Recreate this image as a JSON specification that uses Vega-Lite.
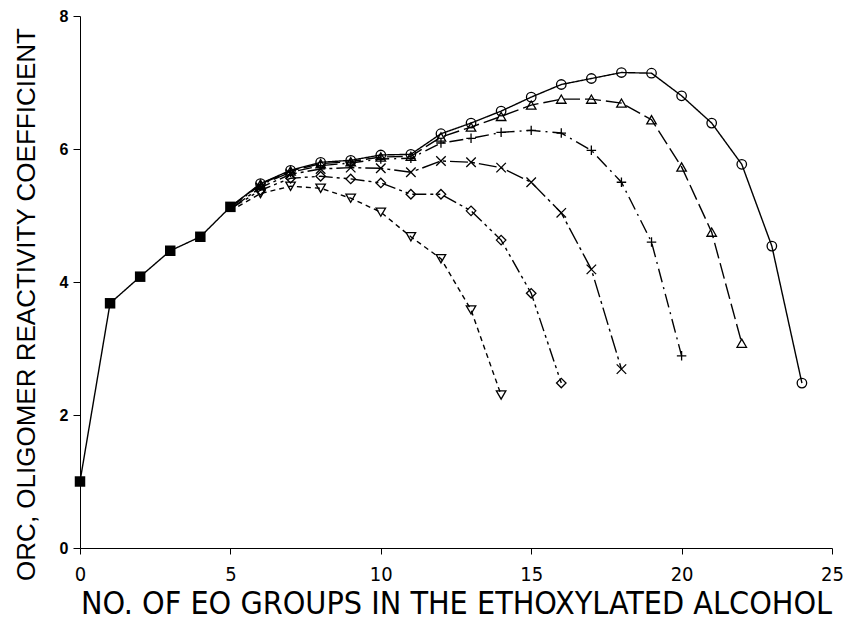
{
  "$schema": "https://vega.github.io/schema/vega-lite/v6.json",
  "width": 752,
  "height": 532,
  "autosize": "none",
  "padding": {"left": 80, "top": 16, "right": 14, "bottom": 79},
  "background": "white",
  "config": {"view": {"stroke": null}},
  "datasets": {
    "pts": [
      {"s": "common", "x": 0, "y": 1.0}, {"s": "common", "x": 1, "y": 3.68}, {"s": "common", "x": 2, "y": 4.08}, {"s": "common", "x": 3, "y": 4.47}, {"s": "common", "x": 4, "y": 4.68}, {"s": "common", "x": 5, "y": 5.13},
      {"s": "A", "x": 5, "y": 5.13}, {"s": "A", "x": 6, "y": 5.48}, {"s": "A", "x": 7, "y": 5.68}, {"s": "A", "x": 8, "y": 5.80}, {"s": "A", "x": 9, "y": 5.83}, {"s": "A", "x": 10, "y": 5.91}, {"s": "A", "x": 11, "y": 5.92}, {"s": "A", "x": 12, "y": 6.23}, {"s": "A", "x": 13, "y": 6.39}, {"s": "A", "x": 14, "y": 6.57}, {"s": "A", "x": 15, "y": 6.78}, {"s": "A", "x": 16, "y": 6.97}, {"s": "A", "x": 17, "y": 7.06}, {"s": "A", "x": 18, "y": 7.15}, {"s": "A", "x": 19, "y": 7.14}, {"s": "A", "x": 20, "y": 6.80}, {"s": "A", "x": 21, "y": 6.39}, {"s": "A", "x": 22, "y": 5.77}, {"s": "A", "x": 23, "y": 4.54}, {"s": "A", "x": 24, "y": 2.48},
      {"s": "B", "x": 5, "y": 5.13}, {"s": "B", "x": 6, "y": 5.47}, {"s": "B", "x": 7, "y": 5.67}, {"s": "B", "x": 8, "y": 5.78}, {"s": "B", "x": 9, "y": 5.81}, {"s": "B", "x": 10, "y": 5.88}, {"s": "B", "x": 11, "y": 5.89}, {"s": "B", "x": 12, "y": 6.18}, {"s": "B", "x": 13, "y": 6.33}, {"s": "B", "x": 14, "y": 6.49}, {"s": "B", "x": 15, "y": 6.66}, {"s": "B", "x": 16, "y": 6.75}, {"s": "B", "x": 17, "y": 6.75}, {"s": "B", "x": 18, "y": 6.69}, {"s": "B", "x": 19, "y": 6.44}, {"s": "B", "x": 20, "y": 5.73}, {"s": "B", "x": 21, "y": 4.75}, {"s": "B", "x": 22, "y": 3.08},
      {"s": "C", "x": 5, "y": 5.12}, {"s": "C", "x": 6, "y": 5.46}, {"s": "C", "x": 7, "y": 5.65}, {"s": "C", "x": 8, "y": 5.75}, {"s": "C", "x": 9, "y": 5.79}, {"s": "C", "x": 10, "y": 5.85}, {"s": "C", "x": 11, "y": 5.86}, {"s": "C", "x": 12, "y": 6.09}, {"s": "C", "x": 13, "y": 6.16}, {"s": "C", "x": 14, "y": 6.25}, {"s": "C", "x": 15, "y": 6.28}, {"s": "C", "x": 16, "y": 6.24}, {"s": "C", "x": 17, "y": 5.98}, {"s": "C", "x": 18, "y": 5.50}, {"s": "C", "x": 19, "y": 4.60}, {"s": "C", "x": 20, "y": 2.89},
      {"s": "D", "x": 5, "y": 5.10}, {"s": "D", "x": 6, "y": 5.42}, {"s": "D", "x": 7, "y": 5.62}, {"s": "D", "x": 8, "y": 5.70}, {"s": "D", "x": 9, "y": 5.72}, {"s": "D", "x": 10, "y": 5.71}, {"s": "D", "x": 11, "y": 5.65}, {"s": "D", "x": 12, "y": 5.82}, {"s": "D", "x": 13, "y": 5.80}, {"s": "D", "x": 14, "y": 5.72}, {"s": "D", "x": 15, "y": 5.50}, {"s": "D", "x": 16, "y": 5.04}, {"s": "D", "x": 17, "y": 4.19}, {"s": "D", "x": 18, "y": 2.69},
      {"s": "E", "x": 5, "y": 5.10}, {"s": "E", "x": 6, "y": 5.38}, {"s": "E", "x": 7, "y": 5.56}, {"s": "E", "x": 8, "y": 5.59}, {"s": "E", "x": 9, "y": 5.55}, {"s": "E", "x": 10, "y": 5.49}, {"s": "E", "x": 11, "y": 5.32}, {"s": "E", "x": 12, "y": 5.32}, {"s": "E", "x": 13, "y": 5.07}, {"s": "E", "x": 14, "y": 4.63}, {"s": "E", "x": 15, "y": 3.83}, {"s": "E", "x": 16, "y": 2.48},
      {"s": "F", "x": 5, "y": 5.07}, {"s": "F", "x": 6, "y": 5.33}, {"s": "F", "x": 7, "y": 5.44}, {"s": "F", "x": 8, "y": 5.41}, {"s": "F", "x": 9, "y": 5.26}, {"s": "F", "x": 10, "y": 5.05}, {"s": "F", "x": 11, "y": 4.68}, {"s": "F", "x": 12, "y": 4.35}, {"s": "F", "x": 13, "y": 3.58}, {"s": "F", "x": 14, "y": 2.30}
    ]
  },
  "data": {"name": "pts"},
  "encoding": {
    "x": {
      "field": "x", "type": "quantitative",
      "scale": {"domain": [0, 25], "nice": false, "zero": false},
      "axis": {
        "values": [0, 5, 10, 15, 20, 25], "grid": false, "labelFlush": false,
        "domainColor": "black", "tickColor": "black", "tickSize": 6,
        "labelFont": "DejaVu Sans Condensed", "labelFontSize": 20, "labelColor": "black", "labelPadding": 10,
        "title": "NO. OF EO GROUPS IN THE ETHOXYLATED ALCOHOL",
        "titleFont": "DejaVu Sans Condensed", "titleFontSize": 32, "titleFontWeight": "normal", "titleColor": "black", "titlePadding": 4
      }
    },
    "y": {
      "field": "y", "type": "quantitative",
      "scale": {"domain": [0, 8], "nice": false},
      "axis": {
        "values": [0, 2, 4, 6, 8], "grid": false, "labelFlush": false,
        "domainColor": "black", "tickColor": "black", "tickSize": 7,
        "labelFont": "Liberation Sans", "labelFontWeight": "bold", "labelFontSize": 16, "labelColor": "black", "labelPadding": 5,
        "title": "ORC, OLIGOMER REACTIVITY COEFFICIENT",
        "titleFont": "Liberation Sans", "titleFontSize": 26, "titleFontWeight": "normal", "titleColor": "black", "titlePadding": 20,
        "titleY": 288
      }
    }
  },
  "layer": [
    {
      "mark": {"type": "line", "color": "black", "strokeWidth": 1.4},
      "encoding": {
        "detail": {"field": "s"},
        "strokeDash": {
          "field": "s", "type": "nominal", "legend": null,
          "scale": {
            "domain": ["common", "A", "B", "C", "D", "E", "F"],
            "range": [[1, 0], [1, 0], [16, 5], [14, 5, 2, 5], [18, 4, 3, 4], [14, 4, 3, 4, 3, 4], [5, 4]]
          }
        }
      }
    },
    {
      "transform": [{"filter": "datum.s !== 'common' && datum.x >= 6"}],
      "mark": {"type": "point", "filled": false, "stroke": "black", "strokeWidth": 1.3, "size": 90, "opacity": 1},
      "encoding": {
        "shape": {
          "field": "s", "type": "nominal", "legend": null,
          "scale": {
            "domain": ["A", "B", "C", "D", "E", "F"],
            "range": ["circle", "triangle-up", "M-1,0H1M0,-1V1", "M-1,-1L1,1M-1,1L1,-1", "diamond", "triangle-down"]
          }
        }
      }
    },
    {
      "transform": [{"filter": "datum.s === 'common'"}],
      "mark": {"type": "point", "shape": "square", "filled": true, "color": "black", "size": 110, "opacity": 1}
    }
  ]
}
